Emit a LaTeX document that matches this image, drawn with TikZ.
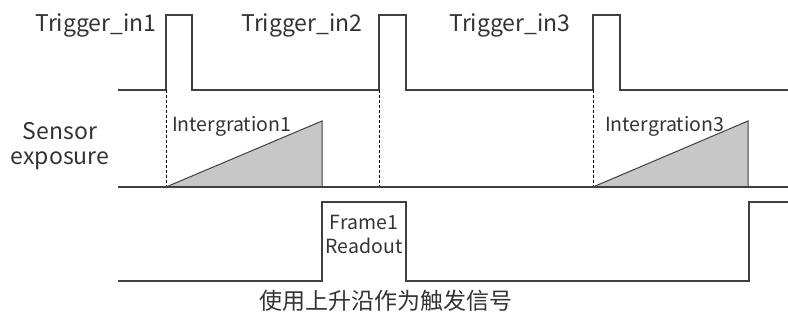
\documentclass[tikz,border=0pt]{standalone}
\usepackage{fontspec}
\setmainfont{Noto Sans CJK SC}
\usetikzlibrary{positioning}

\begin{document}
\begin{tikzpicture}[x=1pt,y=-1pt,
    wave/.style={line width=1.3pt,draw=black!75},
    guide/.style={thin,dash pattern=on 3pt off 2pt,black},
    ramp/.style={line width=1pt,draw=black!75,fill=black!22},
    lbl/.style={font=\fontsize{23}{26}\selectfont,text=black!80,inner sep=0pt},
    small/.style={font=\fontsize{19.5}{23}\selectfont,text=black!80,inner sep=0pt,align=center}]
\useasboundingbox (0,0) rectangle (788,323);

\edef\lo{90}   % trigger low
\edef\hi{15}   % trigger high
\edef\s{187}   % sensor base
\edef\r{121}   % ramp top
\edef\fl{281}  % frame low
\edef\fh{202}  % frame high

% trigger input
\draw[wave] (118,\lo) -- (166,\lo) -- (166,\hi) -- (192,\hi) -- (192,\lo)
  -- (379,\lo) -- (379,\hi) -- (406,\hi) -- (406,\lo)
  -- (593,\lo) -- (593,\hi) -- (620,\hi) -- (620,\lo) -- (788,\lo);

% rising edges
\foreach \t in {166,379,593}
  \draw[guide] (\t,\lo) -- (\t,\s);

% sensor exposure
\draw[ramp] (166,\s) -- (322,\r) -- (322,\s) -- cycle;
\draw[ramp] (593,\s) -- (748,\r) -- (748,\s) -- cycle;
\draw[wave] (118,\s) -- (788,\s);

% readout
\draw[wave] (118,\fl) -- (322,\fl) -- (322,\fh) -- (406,\fh) -- (406,\fl)
  -- (749,\fl) -- (749,\fh) -- (788,\fh);

\node[lbl] (trig1) at (96,25) {Trigger\_in1};
\node[lbl] (trig2) at (302,25) {Trigger\_in2};
\node[lbl] (trig3) at (510,25) {Trigger\_in3};
\node[lbl] (sens) at (60,131) {Sensor};
\node[lbl] (expo) at (60,161) {exposure};
\node[small,anchor=west] (int1) at (172,126) {Intergration1};
\node[small,anchor=west] (int3) at (605,126) {Intergration3};
\node[small] (frame) at (364,234) {Frame1\\[1pt]Readout};
\node[lbl] (cap) at (386,301) {使用上升沿作为触发信号};
\end{tikzpicture}
\end{document}
